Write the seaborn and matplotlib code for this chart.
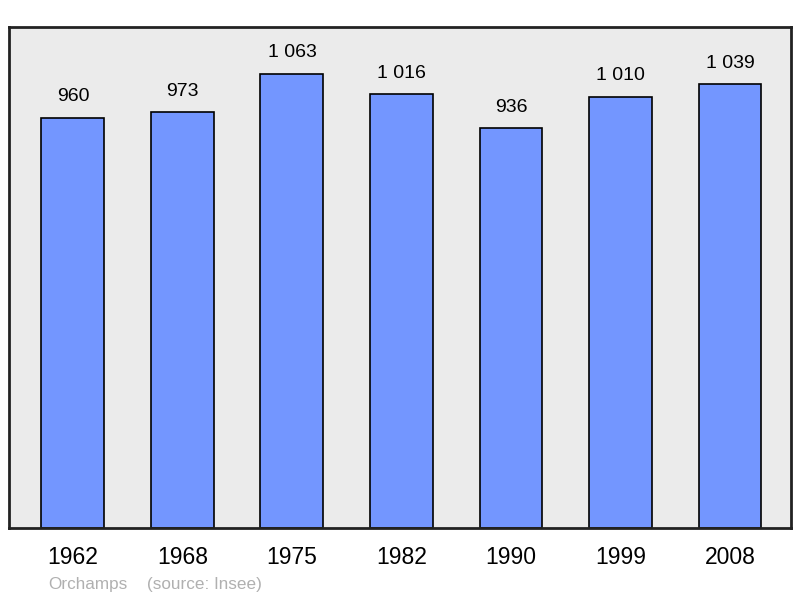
import matplotlib
matplotlib.use("Agg")
import matplotlib.pyplot as plt
import seaborn as sns
import pandas as pd

years = ["1962", "1968", "1975", "1982", "1990", "1999", "2008"]
population = [960, 973, 1063, 1016, 936, 1010, 1039]
value_labels = ["960", "973", "1 063", "1 016", "936", "1 010", "1 039"]

sns.set_style("white")
plt.rcParams["font.family"] = ["Liberation Sans", "DejaVu Sans"]

df = pd.DataFrame({"annee": years, "pop": population})

fig = plt.figure(figsize=(8, 5.98), dpi=100)
ax = fig.add_axes([9 / 800, 70 / 598, 782 / 800, 501 / 598])
ax.set_facecolor("#ebebeb")

sns.barplot(data=df, x="annee", y="pop", color="#7396ff", saturation=1,
            edgecolor="black", linewidth=1.2, width=0.575, ax=ax)

ax.set_xlim(-0.584, 6.557)
ax.set_ylim(0, 1173)

for bar, lab in zip(ax.patches, value_labels):
    ax.annotate(lab, (bar.get_x() + bar.get_width() / 2, bar.get_height()),
                xytext=(0, 9), textcoords="offset points",
                ha="center", va="bottom", fontsize=14, color="black")

ax.set_yticks([])
ax.tick_params(axis="x", length=0, pad=13, labelsize=16.5, labelcolor="black")
ax.set_xlabel("")
ax.set_ylabel("")
for s in ax.spines.values():
    s.set_visible(True)
    s.set_linewidth(2)
    s.set_color("#222222")

fig.text(48 / 800, 1 - 584 / 598, "Orchamps", color="#b0b0b0", fontsize=12.3, va="center")
fig.text(147 / 800, 1 - 584 / 598, "(source: Insee)", color="#b0b0b0", fontsize=12.3, va="center")

fig.savefig("out.png", dpi=100, facecolor="white")
